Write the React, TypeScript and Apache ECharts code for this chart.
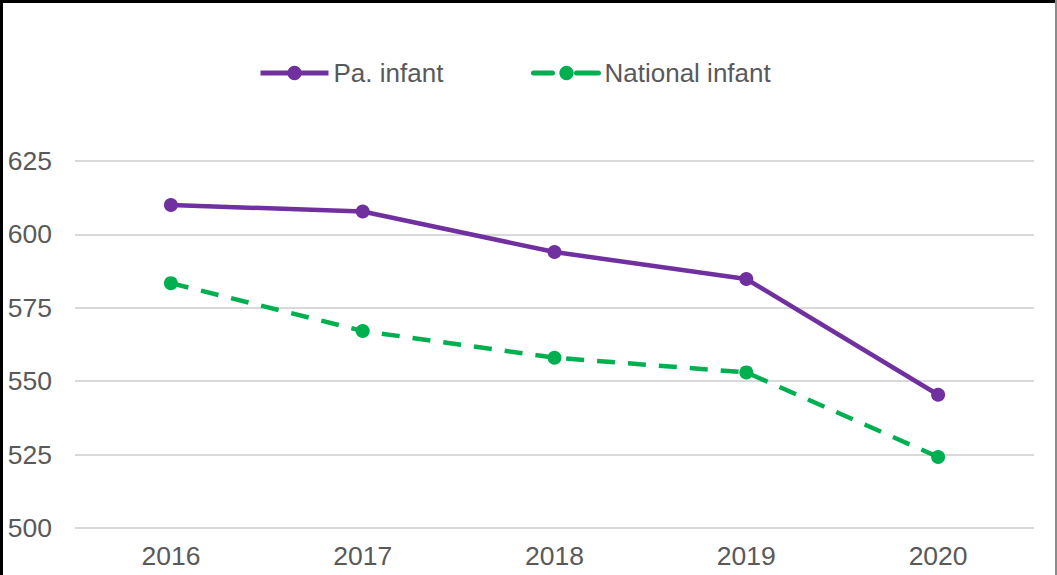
import React, { useEffect, useRef } from "react";
import * as echarts from "echarts";

const years = ["2016", "2017", "2018", "2019", "2020"];
const paInfant = [610, 607.8, 594, 584.8, 545.4];
const nationalInfant = [583.4, 567.1, 558, 553, 524.2];
const yMin = 500;
const yMax = 625;
const yInterval = 25;

const FONT = "'Liberation Sans', Arial, sans-serif";
const TEXT = "#595959";

export default function App() {
  const ref = useRef<HTMLDivElement>(null);
  useEffect(() => {
    if (!ref.current) return;
    const chart = echarts.init(ref.current, undefined, { renderer: "svg" });
    chart.setOption({
      animation: false,
      backgroundColor: "#ffffff",
      textStyle: { fontFamily: FONT },
      legend: [
        {
          data: ["Pa. infant"],
          left: 253,
          top: 55,
          itemWidth: 68,
          itemHeight: 18,
          itemGap: 5,
          lineStyle: { width: 5 },
          textStyle: { fontSize: 26, color: TEXT, fontFamily: FONT },
        },
        {
          data: ["National infant"],
          left: 526,
          top: 55,
          itemWidth: 66,
          itemHeight: 18,
          lineStyle: { width: 5, type: [19, 24, 22], cap: "round" },
          textStyle: { fontSize: 26, color: TEXT, fontFamily: FONT },
        },
      ],
      grid: { left: 75, right: 23, top: 161, bottom: 47, containLabel: false },
      xAxis: {
        type: "category",
        data: years,
        boundaryGap: true,
        axisLine: { show: false },
        axisTick: { show: false },
        axisLabel: { fontSize: 26.5, color: TEXT, margin: 14, fontFamily: FONT },
      },
      yAxis: {
        type: "value",
        min: yMin,
        max: yMax,
        interval: yInterval,
        axisLine: { show: false },
        axisTick: { show: false },
        axisLabel: { fontSize: 26.5, color: TEXT, margin: 23, fontFamily: FONT },
        splitLine: { lineStyle: { color: "#d9d9d9", width: 2 } },
      },
      series: [
        {
          name: "Pa. infant",
          type: "line",
          data: paInfant,
          symbol: "circle",
          symbolSize: 14,
          itemStyle: { color: "#7030A0" },
          lineStyle: { color: "#7030A0", width: 4.5 },
        },
        {
          name: "National infant",
          type: "line",
          data: nationalInfant,
          symbol: "circle",
          symbolSize: 14,
          itemStyle: { color: "#00B050" },
          lineStyle: { color: "#00B050", width: 4.5, type: [18, 13] },
        },
      ],
      graphic: [
        { type: "rect", shape: { x: 0, y: 0, width: 3, height: 575 }, style: { fill: "#000" }, silent: true },
        { type: "rect", shape: { x: 0, y: 0, width: 1057, height: 3 }, style: { fill: "#000" }, silent: true },
        { type: "rect", shape: { x: 1055, y: 0, width: 2, height: 575 }, style: { fill: "#8c8c8c" }, silent: true },
      ],
    });
    return () => chart.dispose();
  }, []);
  return (
    <div
      ref={ref}
      style={{ position: "absolute", left: 0, top: 0, width: 1057, height: 575 }}
    />
  );
}
